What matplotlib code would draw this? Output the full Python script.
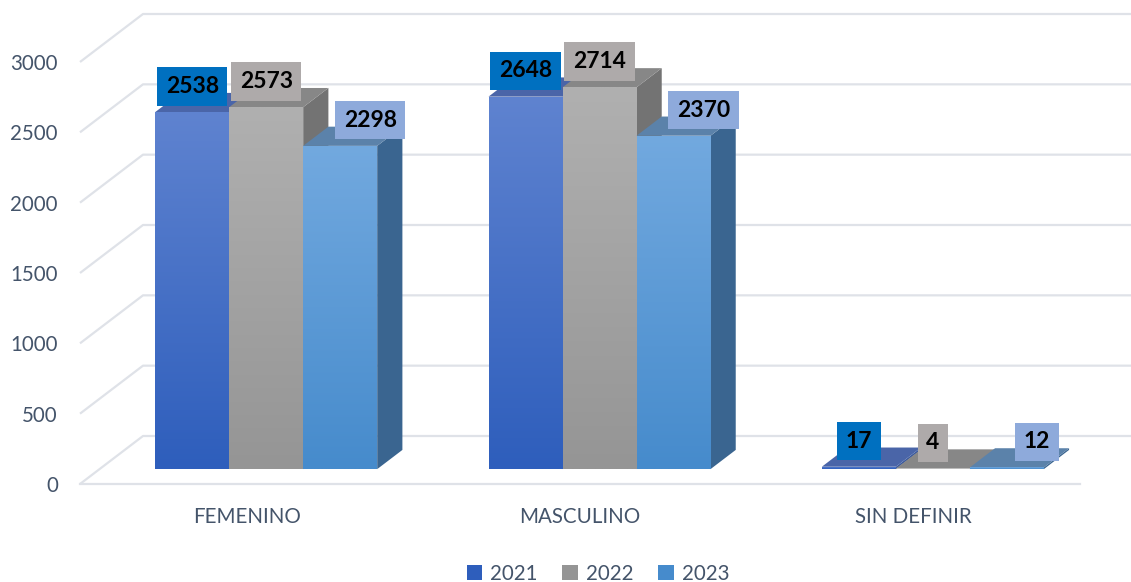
import numpy as np
import matplotlib
matplotlib.use("Agg")
import matplotlib.pyplot as plt
from matplotlib.patches import Polygon, Rectangle, Patch

# data
categories = ["FEMENINO", "MASCULINO", "SIN DEFINIR"]
years = ["2021", "2022", "2023"]
v2021 = [2538, 2648, 17]
v2022 = [2573, 2714, 4]
v2023 = [2298, 2370, 12]
yticks = [0, 500, 1000, 1500, 2000, 2500, 3000]

series = [v2021, v2022, v2023]
front_top = ["#5f83d0", "#b0b0b0", "#72a9df"]
front_bot = ["#2e5ebc", "#959595", "#468bcc"]
top_col = ["#4a65a8", "#878787", "#5b82aa"]
side_col = ["#3b5a9e", "#737373", "#3a6590"]
label_bg = ["#0070c0", "#aeaaaa", "#8eaadb"]
label_dx = [0, 0, 30]   # px shift of the data labels

txt = "#44546a"
grid = "#dfe2e8"
plt.rcParams['font.family'] = ['Lato', 'DejaVu Sans']

fig = plt.figure(figsize=(11.31, 5.82), dpi=100)
ax = fig.add_axes([80 / 1131, 98 / 582, 1000 / 1131, 422 / 582])
ax.set_xlim(0, 3)
ax.set_ylim(0, 3000)
for s in ax.spines.values():
    s.set_visible(False)
ax.set_xticks([])
ax.set_yticks(yticks)
ax.set_yticklabels([str(t) for t in yticks], fontsize=14.8, color=txt)
ax.tick_params(axis='y', length=0, pad=16)

# depth of the floor in data units
px_x = 1000 / 3
px_y = 422 / 3000
ddx = 63 / px_x
ddy = 48 / px_y
d0, d1 = 0.31, 0.71

# back wall grid
for t in yticks:
    ax.plot([0, ddx, 3 + ddx + 0.5], [t, t + ddy, t + ddy], color=grid, lw=1.6,
            clip_on=False, zorder=1, solid_capstyle='butt')
ax.plot([0, 3], [0, 0], color=grid, lw=1.6, clip_on=False, zorder=1)

bw = 0.222
grad = np.linspace(0, 1, 256).reshape(-1, 1)
for i, cat in enumerate(categories):
    ax.text(i + 0.5, -235, cat, ha='center', va='center', fontsize=14.8, color=txt)
    for j, vals in enumerate(series):
        v = vals[i]
        x0 = i + 0.5 - 1.5 * bw + j * bw + d0 * ddx
        y0 = d0 * ddy
        ex = (d1 - d0) * ddx
        ey = (d1 - d0) * ddy
        z = 2 + i * 3 + j
        side = Polygon([(x0 + bw, y0), (x0 + bw, y0 + v), (x0 + bw + ex, y0 + v + ey),
                        (x0 + bw + ex, y0 + ey)], closed=True, fc=side_col[j], ec='none',
                       zorder=z, clip_on=False)
        top = Polygon([(x0, y0 + v), (x0 + bw, y0 + v), (x0 + bw + ex, y0 + v + ey),
                       (x0 + ex, y0 + v + ey)], closed=True, fc=top_col[j], ec='none',
                      zorder=z, clip_on=False)
        ax.add_patch(side)
        ax.add_patch(top)
        front = Rectangle((x0, y0), bw, v, fc='none', ec='none', zorder=z)
        ax.add_patch(front)
        cmap = matplotlib.colors.LinearSegmentedColormap.from_list(
            "g", [front_bot[j], front_top[j]])
        im = ax.imshow(grad, cmap=cmap, origin='lower', aspect='auto',
                       extent=(x0, x0 + bw, y0, y0 + max(v, 1)), zorder=z,
                       interpolation='bilinear')
        im.set_clip_path(front)
        ax.annotate(str(v), (x0 + bw / 2, y0 + v), xytext=(label_dx[j] * 0.72, 18.5),
                    textcoords='offset points', ha='center', va='center',
                    fontsize=16.5, fontweight='bold', color='black', zorder=20,
                    bbox=dict(boxstyle='square,pad=0.38', fc=label_bg[j], ec='none'))

ax.set_xlim(0, 3)
ax.set_ylim(0, 3000)

handles = [Patch(fc=front_bot[j], ec='none') for j in range(3)]
fig.legend(handles, years, loc='lower center', bbox_to_anchor=(598 / 1131, -0.035),
           ncol=3, frameon=False, fontsize=14.8, labelcolor=txt, handlelength=0.75,
           handleheight=0.75, handletextpad=0.4, columnspacing=1.2)

fig.savefig("out.png", dpi=100, facecolor='white')
